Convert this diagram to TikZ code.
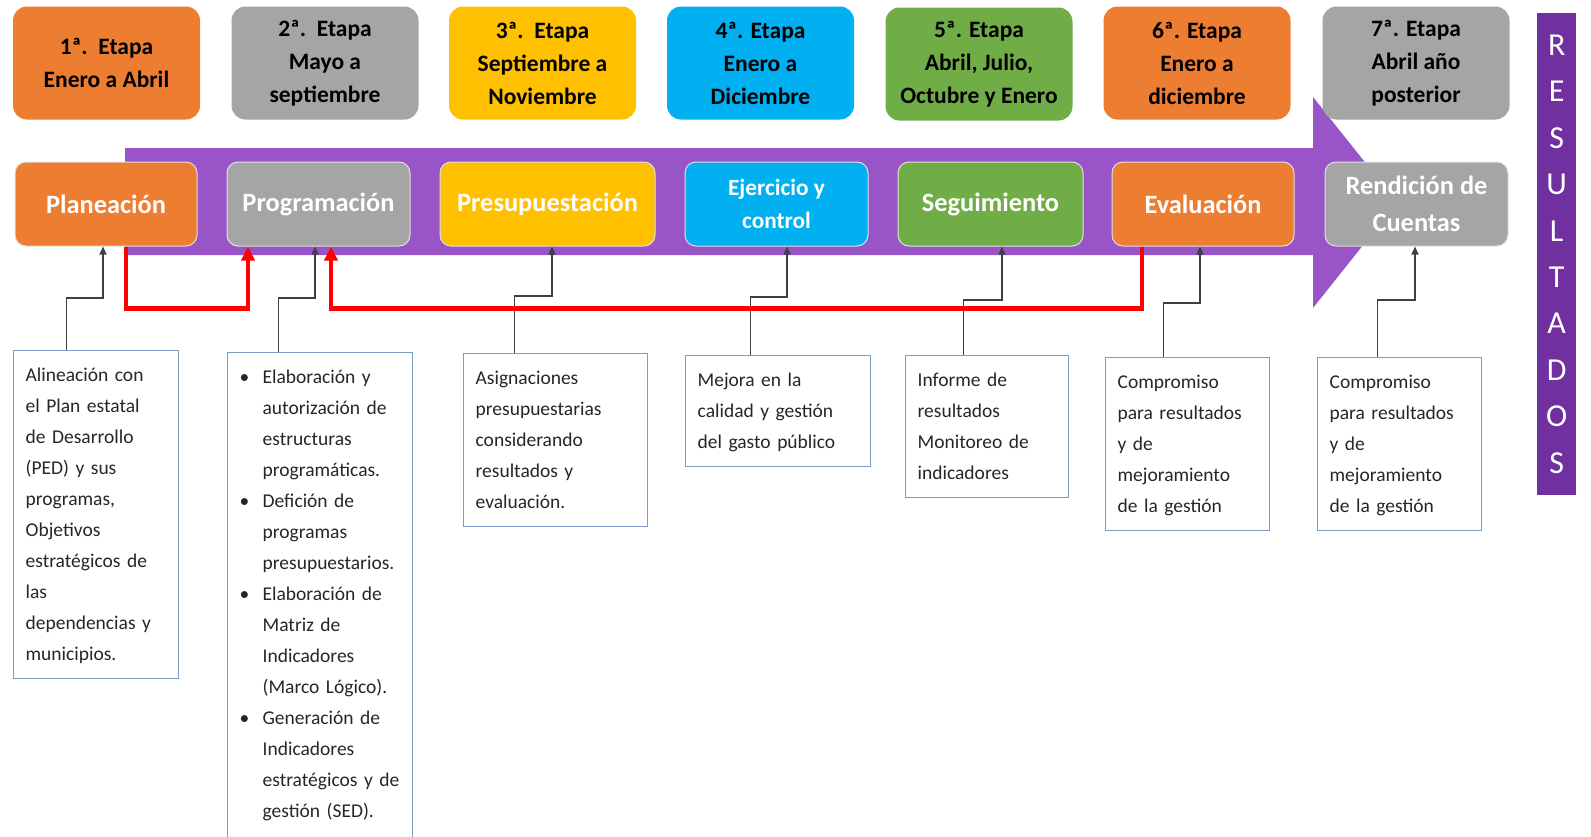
\documentclass[tikz,border=0pt]{standalone}
\usepackage{fontspec}
\setmainfont{Carlito}
\usetikzlibrary{arrows.meta}
\definecolor{naranja}{HTML}{ED7D31}
\definecolor{gris}{HTML}{A5A5A5}
\definecolor{amarillo}{HTML}{FFC000}
\definecolor{azul}{HTML}{00B0F0}
\definecolor{verde}{HTML}{70AD47}
\definecolor{banda}{HTML}{9955C8}
\definecolor{morado}{HTML}{7030A0}
\definecolor{borde}{HTML}{7F9DC4}
\definecolor{flecha}{HTML}{3B4049}
\newcommand{\lstrut}{\rule[-9.3pt]{0pt}{31pt}}
\newcommand{\bul}{\makebox[23pt][l]{\textbullet}}
\newcommand{\sang}{\hspace*{23pt}}

\begin{document}
\begin{tikzpicture}[x=1pt, y=-1pt,
   etapa/.style={rounded corners=14pt, minimum width=187pt, minimum height=113pt, align=center,
                 font=\fontsize{23.5}{33}\selectfont\bfseries},
   fase/.style={draw=white!88!black, line width=1pt, rounded corners=11pt, minimum height=84pt,
                align=center, text=white, font=\fontsize{26.4}{34}\selectfont\bfseries},
   accion/.style={draw=borde, line width=1.3pt, anchor=north west, align=left, inner xsep=12pt,
                  inner ysep=9pt, text=black!85, font=\fontsize{19.5}{31}\selectfont,
                  execute at begin node=\lstrut, execute at end node=\lstrut},
   conn/.style={draw=flecha, line width=1.2pt, -{Triangle[length=8pt,width=7pt]}},
   retro/.style={draw=red, line width=4.5pt, -{Triangle[length=14pt,width=13pt]}}]

\useasboundingbox (0,0) rectangle (1591,836);

\fill[banda] (125,148) -- (1313,148) -- (1313,97) -- (1397,202.5) -- (1313,308)
   -- (1313,255) -- (125,255) -- cycle;

\node[etapa, fill=naranja] (e1) at (106.5,63) {1ª.\ \ Etapa\\Enero a Abril};
\node[etapa, fill=gris] (e2) at (325,63) {2ª.\ \ Etapa\\Mayo a\\septiembre};
\node[etapa, fill=amarillo] (e3) at (542.5,63) {3ª.\ \ Etapa\\Septiembre a\\Noviembre};
\node[etapa, fill=azul] (e4) at (760.5,63) {4ª. Etapa\\Enero a\\Diciembre};
\node[etapa, fill=verde] (e5) at (979,64) {5ª. Etapa\\Abril, Julio,\\Octubre y Enero};
\node[etapa, fill=naranja] (e6) at (1197,63) {6ª. Etapa\\Enero a\\diciembre};
\node[etapa, fill=gris] (e7) at (1416,63) {7ª. Etapa\\Abril año\\posterior};

\node[fase, fill=naranja, minimum width=182pt] (plan) at (106,204) {Planeación};
\node[fase, fill=gris, minimum width=183pt] (prog) at (318.5,204) {Programación};
\node[fase, fill=amarillo, minimum width=215pt] (pres) at (547.5,204) {Presupuestación};
\node[fase, fill=azul, minimum width=183pt, font=\fontsize{23.3}{33}\selectfont\bfseries] (ejer)
   at (776.5,204) {Ejercicio y\\control};
\node[fase, fill=verde, minimum width=185pt] (segu) at (990.5,204) {Seguimiento};
\node[fase, fill=naranja, minimum width=182pt] (eval) at (1203,204) {Evaluación};
\node[fase, fill=gris, minimum width=183pt, font=\fontsize{26.4}{37}\selectfont\bfseries] (rend)
   at (1416.5,204) {Rendición de\\Cuentas};

\node[accion, text width=141pt] (aPlan) at (13,350) {Alineación con\\el Plan estatal\\de Desarrollo\\(PED) y sus\\programas,\\Objetivos\\estratégicos de\\las\\dependencias y\\municipios.};
\node[accion, text width=161pt, text depth=455pt] (aProg) at (227,352) {\bul Elaboración y\\
   \sang autorización de\\ \sang estructuras\\ \sang programáticas.\\
   \bul Defición de\\ \sang programas\\ \sang presupuestarios.\\
   \bul Elaboración de\\ \sang Matriz de\\ \sang Indicadores\\ \sang (Marco Lógico).\\
   \bul Generación de\\ \sang Indicadores\\ \sang estratégicos y de\\ \sang gestión (SED).};
\node[accion, text width=160pt] (aPres) at (463,353) {Asignaciones\\presupuestarias\\considerando\\resultados y\\evaluación.};
\node[accion, text width=161pt] (aEjer) at (685,355) {Mejora en la\\calidad y gestión\\del gasto público};
\node[accion, text width=139pt] (aSegu) at (905,355) {Informe de\\resultados\\Monitoreo de\\indicadores};
\node[accion, text width=140pt] (aEval) at (1105,357) {Compromiso\\para resultados\\y de\\mejoramiento\\de la gestión};
\node[accion, text width=140pt] (aRend) at (1317,357) {Compromiso\\para resultados\\y de\\mejoramiento\\de la gestión};

\node[fill=morado, anchor=north west, minimum width=39pt, minimum height=482pt, text=white,
   align=center, font=\fontsize{32}{46.4}\selectfont] (res) at (1537,13) {R\\E\\S\\U\\L\\T\\A\\D\\O\\S};

\draw[conn] ([xshift=-29.5pt]aPlan.north) -- ++(0,-52) -| ([xshift=-3pt]plan.south);
\draw[conn] ([xshift=-41.5pt]aProg.north) -- ++(0,-54) -| ([xshift=-3.5pt]prog.south);
\draw[conn] ([xshift=-41pt]aPres.north) -- ++(0,-57) -| ([xshift=4.5pt]pres.south);
\draw[conn] ([xshift=-27.5pt]aEjer.north) -- ++(0,-58) -| ([xshift=10.5pt]ejer.south);
\draw[conn] ([xshift=-23.5pt]aSegu.north) -- ++(0,-55) -| ([xshift=11.5pt]segu.south);
\draw[conn] ([xshift=-24pt]aEval.north) -- ++(0,-54) -| ([xshift=-3pt]eval.south);
\draw[conn] ([xshift=-22pt]aRend.north) -- ++(0,-57) -| ([xshift=-1.5pt]rend.south);

\draw[retro] ([xshift=20pt]plan.south) -- ++(0,62) -| ([xshift=-70.5pt]prog.south);
\draw[retro] ([xshift=-61pt]eval.south) -- ++(0,62) -| ([xshift=12.5pt]prog.south);

\end{tikzpicture}
\end{document}
